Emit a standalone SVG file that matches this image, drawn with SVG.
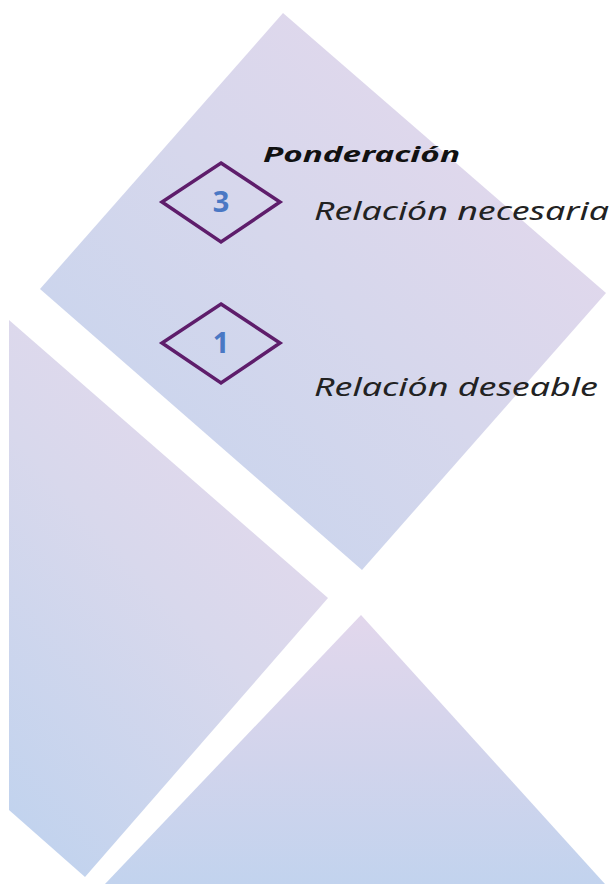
<svg xmlns="http://www.w3.org/2000/svg" width="613" height="884" viewBox="0 0 613 884">
  <defs>
    <linearGradient id="gTop" x1="0" y1="1" x2="1" y2="0">
      <stop offset="0" stop-color="#c2d3ee"/>
      <stop offset="0.5" stop-color="#d6d7ec"/>
      <stop offset="1" stop-color="#e8d8ec"/>
    </linearGradient>
    <linearGradient id="gLeft" x1="0.8" y1="0" x2="0.2" y2="1">
      <stop offset="0" stop-color="#e7d9ec"/>
      <stop offset="0.5" stop-color="#d8d8ec"/>
      <stop offset="1" stop-color="#c2d3ee"/>
    </linearGradient>
    <linearGradient id="gBot" x1="0" y1="0" x2="0" y2="1">
      <stop offset="0" stop-color="#e2d7ec"/>
      <stop offset="0.55" stop-color="#d1d4ec"/>
      <stop offset="1" stop-color="#c2d3ee"/>
    </linearGradient>
  </defs>
  <style>
    .badge { fill: none; stroke: #5e1d6b; stroke-width: 3.5; stroke-linejoin: miter; }
    .num { font-family: "Noto Sans", "Open Sans", sans-serif; font-weight: bold; font-size: 29px; fill: #4a78c4; text-anchor: middle; }
    .title { font-family: "Noto Sans", "Open Sans", sans-serif; font-weight: bold; font-style: italic; font-size: 22px; fill: #111111; }
    .label { font-family: "Noto Sans", "Open Sans", sans-serif; font-style: italic; font-size: 25px; fill: #222222; }
  </style>
  <rect width="613" height="884" fill="#ffffff"/>
  <g id="background">
    <polygon points="283,13 606,293 362,570 40,289" fill="url(#gTop)"/>
    <polygon points="9,320 328,598 85,877 9,810" fill="url(#gLeft)"/>
    <polygon points="361,615 605,884 105,884" fill="url(#gBot)"/>
  </g>
  <g id="title">
    <text class="title" x="263" y="162" textLength="197" lengthAdjust="spacingAndGlyphs">Ponderación</text>
  </g>
  <g id="badge-3">
    <polygon class="badge" points="221,163 280,202 221,242 162,202"/>
    <text class="num" x="221" y="212">3</text>
  </g>
  <g id="label-necesaria">
    <text class="label" x="314" y="220" textLength="295" lengthAdjust="spacingAndGlyphs">Relación necesaria</text>
  </g>
  <g id="badge-1">
    <polygon class="badge" points="221,304 280,343 221,383 162,343"/>
    <text class="num" x="221" y="353">1</text>
  </g>
  <g id="label-deseable">
    <text class="label" x="314" y="396" textLength="284" lengthAdjust="spacingAndGlyphs">Relación deseable</text>
  </g>
  <g id="connectors"/>
</svg>
